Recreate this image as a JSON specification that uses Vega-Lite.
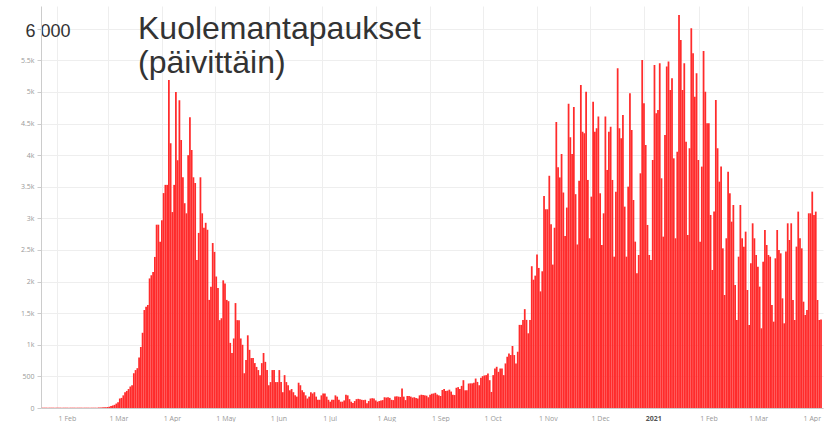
{
  "$schema": "https://vega.github.io/schema/vega-lite/v6.json",
  "width": 782,
  "height": 402,
  "autosize": "none",
  "padding": {"left": 41, "top": 6, "right": 12, "bottom": 14},
  "background": "white",
  "title": {
    "text": ["Kuolemantapaukset", "(päivittäin)"],
    "anchor": "start",
    "frame": "group",
    "orient": "top",
    "baseline": "top",
    "offset": 0,
    "dx": 97,
    "dy": 74,
    "font": "Liberation Sans",
    "fontSize": 32,
    "fontWeight": "normal",
    "color": "#333333",
    "lineHeight": 34
  },
  "config": {
    "view": {"stroke": null}
  },
  "datasets": {
    "daily": [
      {"date":"2020-01-23","deaths":5},{"date":"2020-01-24","deaths":5},{"date":"2020-01-25","deaths":5},{"date":"2020-01-26","deaths":5},{"date":"2020-01-27","deaths":5},{"date":"2020-01-28","deaths":5},{"date":"2020-01-29","deaths":5},{"date":"2020-01-30","deaths":5},{"date":"2020-01-31","deaths":5},
      {"date":"2020-02-01","deaths":5},{"date":"2020-02-02","deaths":5},{"date":"2020-02-03","deaths":5},{"date":"2020-02-04","deaths":5},{"date":"2020-02-05","deaths":5},{"date":"2020-02-06","deaths":5},{"date":"2020-02-07","deaths":5},{"date":"2020-02-08","deaths":5},{"date":"2020-02-09","deaths":5},{"date":"2020-02-10","deaths":5},{"date":"2020-02-11","deaths":5},{"date":"2020-02-12","deaths":5},{"date":"2020-02-13","deaths":5},{"date":"2020-02-14","deaths":5},{"date":"2020-02-15","deaths":5},{"date":"2020-02-16","deaths":5},{"date":"2020-02-17","deaths":5},{"date":"2020-02-18","deaths":5},{"date":"2020-02-19","deaths":5},{"date":"2020-02-20","deaths":5},{"date":"2020-02-21","deaths":5},{"date":"2020-02-22","deaths":5},{"date":"2020-02-23","deaths":5},{"date":"2020-02-24","deaths":8},{"date":"2020-02-25","deaths":8},{"date":"2020-02-26","deaths":10},{"date":"2020-02-27","deaths":10},{"date":"2020-02-28","deaths":12},{"date":"2020-02-29","deaths":15},
      {"date":"2020-03-01","deaths":20},{"date":"2020-03-02","deaths":30},{"date":"2020-03-03","deaths":40},{"date":"2020-03-04","deaths":50},{"date":"2020-03-05","deaths":70},{"date":"2020-03-06","deaths":90},{"date":"2020-03-07","deaths":150},{"date":"2020-03-08","deaths":160},{"date":"2020-03-09","deaths":200},{"date":"2020-03-10","deaths":250},{"date":"2020-03-11","deaths":270},{"date":"2020-03-12","deaths":300},{"date":"2020-03-13","deaths":340},{"date":"2020-03-14","deaths":360},{"date":"2020-03-15","deaths":550},{"date":"2020-03-16","deaths":600},{"date":"2020-03-17","deaths":630},{"date":"2020-03-18","deaths":800},{"date":"2020-03-19","deaths":965},{"date":"2020-03-20","deaths":1190},{"date":"2020-03-21","deaths":1550},{"date":"2020-03-22","deaths":1600},{"date":"2020-03-23","deaths":1630},{"date":"2020-03-24","deaths":2050},{"date":"2020-03-25","deaths":2100},{"date":"2020-03-26","deaths":2150},{"date":"2020-03-27","deaths":2390},{"date":"2020-03-28","deaths":2900},{"date":"2020-03-29","deaths":2900},{"date":"2020-03-30","deaths":2630},{"date":"2020-03-31","deaths":2970},
      {"date":"2020-04-01","deaths":3400},{"date":"2020-04-02","deaths":3530},{"date":"2020-04-03","deaths":3530},{"date":"2020-04-04","deaths":5190},{"date":"2020-04-05","deaths":4190},{"date":"2020-04-06","deaths":3100},{"date":"2020-04-07","deaths":3530},{"date":"2020-04-08","deaths":5000},{"date":"2020-04-09","deaths":3920},{"date":"2020-04-10","deaths":4870},{"date":"2020-04-11","deaths":4240},{"date":"2020-04-12","deaths":3650},{"date":"2020-04-13","deaths":3240},{"date":"2020-04-14","deaths":3080},{"date":"2020-04-15","deaths":4000},{"date":"2020-04-16","deaths":4600},{"date":"2020-04-17","deaths":4080},{"date":"2020-04-18","deaths":3650},{"date":"2020-04-19","deaths":3560},{"date":"2020-04-20","deaths":2340},{"date":"2020-04-21","deaths":2770},{"date":"2020-04-22","deaths":3650},{"date":"2020-04-23","deaths":3080},{"date":"2020-04-24","deaths":2850},{"date":"2020-04-25","deaths":2930},{"date":"2020-04-26","deaths":2820},{"date":"2020-04-27","deaths":1710},{"date":"2020-04-28","deaths":1920},{"date":"2020-04-29","deaths":2610},{"date":"2020-04-30","deaths":2470},
      {"date":"2020-05-01","deaths":2080},{"date":"2020-05-02","deaths":1900},{"date":"2020-05-03","deaths":1390},{"date":"2020-05-04","deaths":1420},{"date":"2020-05-05","deaths":2020},{"date":"2020-05-06","deaths":1970},{"date":"2020-05-07","deaths":1710},{"date":"2020-05-08","deaths":1690},{"date":"2020-05-09","deaths":1030},{"date":"2020-05-10","deaths":870},{"date":"2020-05-11","deaths":1100},{"date":"2020-05-12","deaths":1660},{"date":"2020-05-13","deaths":1390},{"date":"2020-05-14","deaths":1390},{"date":"2020-05-15","deaths":1100},{"date":"2020-05-16","deaths":1000},{"date":"2020-05-17","deaths":550},{"date":"2020-05-18","deaths":760},{"date":"2020-05-19","deaths":1150},{"date":"2020-05-20","deaths":920},{"date":"2020-05-21","deaths":790},{"date":"2020-05-22","deaths":790},{"date":"2020-05-23","deaths":710},{"date":"2020-05-24","deaths":650},{"date":"2020-05-25","deaths":600},{"date":"2020-05-26","deaths":520},{"date":"2020-05-27","deaths":710},{"date":"2020-05-28","deaths":870},{"date":"2020-05-29","deaths":730},{"date":"2020-05-30","deaths":600},{"date":"2020-05-31","deaths":360},
      {"date":"2020-06-01","deaths":410},{"date":"2020-06-02","deaths":600},{"date":"2020-06-03","deaths":600},{"date":"2020-06-04","deaths":410},{"date":"2020-06-05","deaths":410},{"date":"2020-06-06","deaths":600},{"date":"2020-06-07","deaths":410},{"date":"2020-06-08","deaths":250},{"date":"2020-06-09","deaths":520},{"date":"2020-06-10","deaths":410},{"date":"2020-06-11","deaths":360},{"date":"2020-06-12","deaths":280},{"date":"2020-06-13","deaths":300},{"date":"2020-06-14","deaths":250},{"date":"2020-06-15","deaths":200},{"date":"2020-06-16","deaths":180},{"date":"2020-06-17","deaths":400},{"date":"2020-06-18","deaths":360},{"date":"2020-06-19","deaths":280},{"date":"2020-06-20","deaths":250},{"date":"2020-06-21","deaths":200},{"date":"2020-06-22","deaths":150},{"date":"2020-06-23","deaths":180},{"date":"2020-06-24","deaths":250},{"date":"2020-06-25","deaths":230},{"date":"2020-06-26","deaths":250},{"date":"2020-06-27","deaths":180},{"date":"2020-06-28","deaths":130},{"date":"2020-06-29","deaths":130},{"date":"2020-06-30","deaths":200},
      {"date":"2020-07-01","deaths":230},{"date":"2020-07-02","deaths":230},{"date":"2020-07-03","deaths":180},{"date":"2020-07-04","deaths":130},{"date":"2020-07-05","deaths":100},{"date":"2020-07-06","deaths":130},{"date":"2020-07-07","deaths":130},{"date":"2020-07-08","deaths":200},{"date":"2020-07-09","deaths":180},{"date":"2020-07-10","deaths":130},{"date":"2020-07-11","deaths":100},{"date":"2020-07-12","deaths":100},{"date":"2020-07-13","deaths":120},{"date":"2020-07-14","deaths":210},{"date":"2020-07-15","deaths":200},{"date":"2020-07-16","deaths":140},{"date":"2020-07-17","deaths":100},{"date":"2020-07-18","deaths":80},{"date":"2020-07-19","deaths":110},{"date":"2020-07-20","deaths":140},{"date":"2020-07-21","deaths":145},{"date":"2020-07-22","deaths":140},{"date":"2020-07-23","deaths":130},{"date":"2020-07-24","deaths":125},{"date":"2020-07-25","deaths":130},{"date":"2020-07-26","deaths":75},{"date":"2020-07-27","deaths":110},{"date":"2020-07-28","deaths":150},{"date":"2020-07-29","deaths":155},{"date":"2020-07-30","deaths":150},{"date":"2020-07-31","deaths":120},
      {"date":"2020-08-01","deaths":100},{"date":"2020-08-02","deaths":110},{"date":"2020-08-03","deaths":120},{"date":"2020-08-04","deaths":125},{"date":"2020-08-05","deaths":170},{"date":"2020-08-06","deaths":165},{"date":"2020-08-07","deaths":170},{"date":"2020-08-08","deaths":160},{"date":"2020-08-09","deaths":130},{"date":"2020-08-10","deaths":125},{"date":"2020-08-11","deaths":180},{"date":"2020-08-12","deaths":185},{"date":"2020-08-13","deaths":180},{"date":"2020-08-14","deaths":175},{"date":"2020-08-15","deaths":310},{"date":"2020-08-16","deaths":180},{"date":"2020-08-17","deaths":125},{"date":"2020-08-18","deaths":190},{"date":"2020-08-19","deaths":190},{"date":"2020-08-20","deaths":180},{"date":"2020-08-21","deaths":165},{"date":"2020-08-22","deaths":170},{"date":"2020-08-23","deaths":160},{"date":"2020-08-24","deaths":150},{"date":"2020-08-25","deaths":200},{"date":"2020-08-26","deaths":210},{"date":"2020-08-27","deaths":205},{"date":"2020-08-28","deaths":200},{"date":"2020-08-29","deaths":195},{"date":"2020-08-30","deaths":170},{"date":"2020-08-31","deaths":210},
      {"date":"2020-09-01","deaths":225},{"date":"2020-09-02","deaths":230},{"date":"2020-09-03","deaths":240},{"date":"2020-09-04","deaths":215},{"date":"2020-09-05","deaths":200},{"date":"2020-09-06","deaths":190},{"date":"2020-09-07","deaths":285},{"date":"2020-09-08","deaths":300},{"date":"2020-09-09","deaths":270},{"date":"2020-09-10","deaths":275},{"date":"2020-09-11","deaths":290},{"date":"2020-09-12","deaths":260},{"date":"2020-09-13","deaths":210},{"date":"2020-09-14","deaths":205},{"date":"2020-09-15","deaths":320},{"date":"2020-09-16","deaths":330},{"date":"2020-09-17","deaths":300},{"date":"2020-09-18","deaths":350},{"date":"2020-09-19","deaths":440},{"date":"2020-09-20","deaths":280},{"date":"2020-09-21","deaths":280},{"date":"2020-09-22","deaths":387},{"date":"2020-09-23","deaths":390},{"date":"2020-09-24","deaths":390},{"date":"2020-09-25","deaths":400},{"date":"2020-09-26","deaths":466},{"date":"2020-09-27","deaths":413},{"date":"2020-09-28","deaths":360},{"date":"2020-09-29","deaths":480},{"date":"2020-09-30","deaths":504},
      {"date":"2020-10-01","deaths":515},{"date":"2020-10-02","deaths":520},{"date":"2020-10-03","deaths":546},{"date":"2020-10-04","deaths":440},{"date":"2020-10-05","deaths":254},{"date":"2020-10-06","deaths":520},{"date":"2020-10-07","deaths":625},{"date":"2020-10-08","deaths":652},{"date":"2020-10-09","deaths":572},{"date":"2020-10-10","deaths":625},{"date":"2020-10-11","deaths":625},{"date":"2020-10-12","deaths":520},{"date":"2020-10-13","deaths":705},{"date":"2020-10-14","deaths":811},{"date":"2020-10-15","deaths":864},{"date":"2020-10-16","deaths":838},{"date":"2020-10-17","deaths":981},{"date":"2020-10-18","deaths":838},{"date":"2020-10-19","deaths":705},{"date":"2020-10-20","deaths":890},{"date":"2020-10-21","deaths":1315},{"date":"2020-10-22","deaths":1315},{"date":"2020-10-23","deaths":1394},{"date":"2020-10-24","deaths":1564},{"date":"2020-10-25","deaths":1394},{"date":"2020-10-26","deaths":1182},{"date":"2020-10-27","deaths":1394},{"date":"2020-10-28","deaths":2243},{"date":"2020-10-29","deaths":2030},{"date":"2020-10-30","deaths":2094},{"date":"2020-10-31","deaths":2428},
      {"date":"2020-11-01","deaths":2216},{"date":"2020-11-02","deaths":1845},{"date":"2020-11-03","deaths":2163},{"date":"2020-11-04","deaths":3356},{"date":"2020-11-05","deaths":3144},{"date":"2020-11-06","deaths":3144},{"date":"2020-11-07","deaths":3674},{"date":"2020-11-08","deaths":2906},{"date":"2020-11-09","deaths":2269},{"date":"2020-11-10","deaths":2852},{"date":"2020-11-11","deaths":4523},{"date":"2020-11-12","deaths":3807},{"date":"2020-11-13","deaths":3648},{"date":"2020-11-14","deaths":4019},{"date":"2020-11-15","deaths":3409},{"date":"2020-11-16","deaths":2720},{"date":"2020-11-17","deaths":3171},{"date":"2020-11-18","deaths":4814},{"date":"2020-11-19","deaths":4284},{"date":"2020-11-20","deaths":4019},{"date":"2020-11-21","deaths":4761},{"date":"2020-11-22","deaths":3383},{"date":"2020-11-23","deaths":2587},{"date":"2020-11-24","deaths":3595},{"date":"2020-11-25","deaths":5111},{"date":"2020-11-26","deaths":4372},{"date":"2020-11-27","deaths":4346},{"date":"2020-11-28","deaths":5005},{"date":"2020-11-29","deaths":3608},{"date":"2020-11-30","deaths":2685},
      {"date":"2020-12-01","deaths":3344},{"date":"2020-12-02","deaths":4847},{"date":"2020-12-03","deaths":4372},{"date":"2020-12-04","deaths":4425},{"date":"2020-12-05","deaths":4610},{"date":"2020-12-06","deaths":3397},{"date":"2020-12-07","deaths":2579},{"date":"2020-12-08","deaths":3080},{"date":"2020-12-09","deaths":4610},{"date":"2020-12-10","deaths":3766},{"date":"2020-12-11","deaths":4372},{"date":"2020-12-12","deaths":4451},{"date":"2020-12-13","deaths":3608},{"date":"2020-12-14","deaths":2394},{"date":"2020-12-15","deaths":3423},{"date":"2020-12-16","deaths":5374},{"date":"2020-12-17","deaths":4425},{"date":"2020-12-18","deaths":4267},{"date":"2020-12-19","deaths":4636},{"date":"2020-12-20","deaths":3186},{"date":"2020-12-21","deaths":2394},{"date":"2020-12-22","deaths":3502},{"date":"2020-12-23","deaths":4979},{"date":"2020-12-24","deaths":4399},{"date":"2020-12-25","deaths":3291},{"date":"2020-12-26","deaths":2632},{"date":"2020-12-27","deaths":2131},{"date":"2020-12-28","deaths":2421},{"date":"2020-12-29","deaths":3713},{"date":"2020-12-30","deaths":5506},{"date":"2020-12-31","deaths":4821},
      {"date":"2021-01-01","deaths":4161},{"date":"2021-01-02","deaths":2896},{"date":"2021-01-03","deaths":2421},{"date":"2021-01-04","deaths":2342},{"date":"2021-01-05","deaths":3924},{"date":"2021-01-06","deaths":5427},{"date":"2021-01-07","deaths":4662},{"date":"2021-01-08","deaths":4715},{"date":"2021-01-09","deaths":5454},{"date":"2021-01-10","deaths":3634},{"date":"2021-01-11","deaths":2711},{"date":"2021-01-12","deaths":4320},{"date":"2021-01-13","deaths":5401},{"date":"2021-01-14","deaths":5480},{"date":"2021-01-15","deaths":5032},{"date":"2021-01-16","deaths":5216},{"date":"2021-01-17","deaths":3950},{"date":"2021-01-18","deaths":2685},{"date":"2021-01-19","deaths":4056},{"date":"2021-01-20","deaths":6218},{"date":"2021-01-21","deaths":5823},{"date":"2021-01-22","deaths":5032},{"date":"2021-01-23","deaths":5454},{"date":"2021-01-24","deaths":4214},{"date":"2021-01-25","deaths":2737},{"date":"2021-01-26","deaths":4109},{"date":"2021-01-27","deaths":6007},{"date":"2021-01-28","deaths":5612},{"date":"2021-01-29","deaths":4926},{"date":"2021-01-30","deaths":5295},{"date":"2021-01-31","deaths":3924},
      {"date":"2021-02-01","deaths":2632},{"date":"2021-02-02","deaths":3819},{"date":"2021-02-03","deaths":5650},{"date":"2021-02-04","deaths":5005},{"date":"2021-02-05","deaths":4504},{"date":"2021-02-06","deaths":4504},{"date":"2021-02-07","deaths":3054},{"date":"2021-02-08","deaths":2184},{"date":"2021-02-09","deaths":3107},{"date":"2021-02-10","deaths":4873},{"date":"2021-02-11","deaths":4109},{"date":"2021-02-12","deaths":3581},{"date":"2021-02-13","deaths":3819},{"date":"2021-02-14","deaths":2526},{"date":"2021-02-15","deaths":1788},{"date":"2021-02-16","deaths":2685},{"date":"2021-02-17","deaths":3739},{"date":"2021-02-18","deaths":3397},{"date":"2021-02-19","deaths":2948},{"date":"2021-02-20","deaths":3212},{"date":"2021-02-21","deaths":1946},{"date":"2021-02-22","deaths":1392},{"date":"2021-02-23","deaths":2394},{"date":"2021-02-24","deaths":3212},{"date":"2021-02-25","deaths":2685},{"date":"2021-02-26","deaths":2553},{"date":"2021-02-27","deaths":2790},{"date":"2021-02-28","deaths":1867},
      {"date":"2021-03-01","deaths":1313},{"date":"2021-03-02","deaths":2289},{"date":"2021-03-03","deaths":2922},{"date":"2021-03-04","deaths":2685},{"date":"2021-03-05","deaths":2421},{"date":"2021-03-06","deaths":2236},{"date":"2021-03-07","deaths":1920},{"date":"2021-03-08","deaths":1261},{"date":"2021-03-09","deaths":2315},{"date":"2021-03-10","deaths":2816},{"date":"2021-03-11","deaths":2579},{"date":"2021-03-12","deaths":2421},{"date":"2021-03-13","deaths":2394},{"date":"2021-03-14","deaths":1630},{"date":"2021-03-15","deaths":1366},{"date":"2021-03-16","deaths":2368},{"date":"2021-03-17","deaths":2816},{"date":"2021-03-18","deaths":2500},{"date":"2021-03-19","deaths":2447},{"date":"2021-03-20","deaths":1735},{"date":"2021-03-21","deaths":1340},{"date":"2021-03-22","deaths":2474},{"date":"2021-03-23","deaths":2922},{"date":"2021-03-24","deaths":2658},{"date":"2021-03-25","deaths":2922},{"date":"2021-03-26","deaths":1709},{"date":"2021-03-27","deaths":1392},{"date":"2021-03-28","deaths":2553},{"date":"2021-03-29","deaths":3107},{"date":"2021-03-30","deaths":2685},{"date":"2021-03-31","deaths":2526},
      {"date":"2021-04-01","deaths":1682},{"date":"2021-04-02","deaths":1472},{"date":"2021-04-03","deaths":1551},{"date":"2021-04-04","deaths":3080},{"date":"2021-04-05","deaths":3080},{"date":"2021-04-06","deaths":3423},{"date":"2021-04-07","deaths":3054},{"date":"2021-04-08","deaths":3107},{"date":"2021-04-09","deaths":1709},{"date":"2021-04-10","deaths":1392},{"date":"2021-04-11","deaths":1400}
    ]
  },
  "data": {"name": "daily"},
  "mark": {"type": "bar", "color": "#ff2b2b", "binSpacing": 0},
  "encoding": {
    "x": {
      "field": "date",
      "type": "temporal",
      "timeUnit": "utcyearmonthdate",
      "scale": {
        "domain": [
          {"year": 2020, "month": 1, "date": 22, "hours": 20, "utc": true},
          {"year": 2021, "month": 4, "date": 12, "hours": 22, "utc": true}
        ]
      },
      "axis": {
        "title": null,
        "values": [
          {"year": 2020, "month": 2, "date": 1, "utc": true},
          {"year": 2020, "month": 3, "date": 1, "utc": true},
          {"year": 2020, "month": 4, "date": 1, "utc": true},
          {"year": 2020, "month": 5, "date": 1, "utc": true},
          {"year": 2020, "month": 6, "date": 1, "utc": true},
          {"year": 2020, "month": 7, "date": 1, "utc": true},
          {"year": 2020, "month": 8, "date": 1, "utc": true},
          {"year": 2020, "month": 9, "date": 1, "utc": true},
          {"year": 2020, "month": 10, "date": 1, "utc": true},
          {"year": 2020, "month": 11, "date": 1, "utc": true},
          {"year": 2020, "month": 12, "date": 1, "utc": true},
          {"year": 2021, "month": 1, "date": 1, "utc": true},
          {"year": 2021, "month": 2, "date": 1, "utc": true},
          {"year": 2021, "month": 3, "date": 1, "utc": true},
          {"year": 2021, "month": 4, "date": 1, "utc": true}
        ],
        "labelExpr": "utcmonth(datum.value) === 0 ? utcFormat(datum.value, '%Y') : utcFormat(datum.value, '%-d %b')",
        "labelAlign": "left",
        "labelOffset": 1,
        "labelPadding": 6,
        "labelFont": "Open Sans",
        "labelFontSize": 7,
        "labelColor": {"condition": {"test": "utcmonth(datum.value) === 0", "value": "#555555"}, "value": "#999999"},
        "labelFontWeight": {"condition": {"test": "utcmonth(datum.value) === 0", "value": "bold"}, "value": "normal"},
        "labelOverlap": false,
        "labelFlush": false,
        "ticks": false,
        "domainColor": "#cccccc",
        "gridColor": "#eeeeee",
        "grid": true
      }
    },
    "y": {
      "field": "deaths",
      "type": "quantitative",
      "scale": {"domain": [0, 6360], "nice": false},
      "axis": {
        "title": null,
        "values": [0, 500, 1000, 1500, 2000, 2500, 3000, 3500, 4000, 4500, 5000, 5500, 6000],
        "labelExpr": "datum.value === 6000 ? '6 000' : datum.value < 1000 ? '' + datum.value : format(datum.value / 1000, '~g') + 'k'",
        "labelFont": {"condition": {"test": "datum.value === 6000", "value": "Liberation Sans"}, "value": "Open Sans"},
        "labelFontSize": {"condition": {"test": "datum.value === 6000", "value": 18}, "value": 7},
        "labelColor": {"condition": {"test": "datum.value === 6000", "value": "#333333"}, "value": "#999999"},
        "labelAlign": {"condition": {"test": "datum.value === 6000", "value": "left"}, "value": "right"},
        "labelPadding": {"condition": {"test": "datum.value === 6000", "value": 12}, "value": 3},
        "labelOffset": {"condition": {"test": "datum.value === 6000", "value": 3}, "value": 0},
        "labelOverlap": false,
        "labelFlush": false,
        "tickSize": 4,
        "tickColor": "#cccccc",
        "domainColor": "#cccccc",
        "gridColor": "#eeeeee",
        "grid": true
      }
    }
  }
}
